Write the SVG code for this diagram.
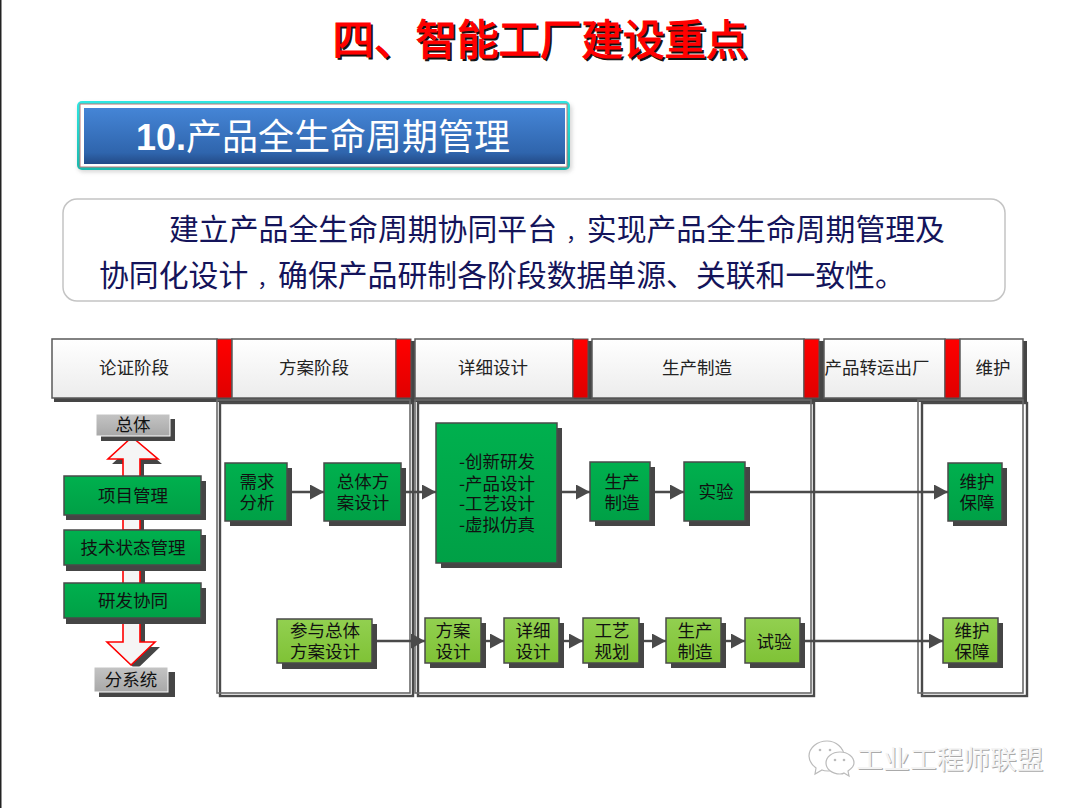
<svg xmlns="http://www.w3.org/2000/svg" width="1080" height="808" viewBox="0 0 1080 808">
<style>
text{font-family:"Liberation Sans","Noto Sans CJK SC",sans-serif;text-anchor:middle}
.cjk{font-family:"Noto Sans CJK SC","Liberation Sans",sans-serif}
.sh{fill:#454545}
.hd{fill:url(#gw);stroke:#5a5a5a;stroke-width:1.5}
.red{fill:url(#gr);stroke:#555;stroke-width:1}
.g{fill:url(#gg);stroke:#4a4a4a;stroke-width:1.5}
.l{fill:url(#gl);stroke:#4a4a4a;stroke-width:1.5}
.gy{fill:url(#gy);stroke:#fff;stroke-width:1}
.t{font-size:17.5px;fill:#111}
.h{font-size:17.5px;fill:#222}
.c{fill:none;stroke:#4a4a4a;stroke-width:2.4}
.fo{fill:none;stroke:#6a6a6a;stroke-width:1.6}
.fs{fill:none;stroke:#4a4a4a;stroke-width:2.4}
.ar{fill:#f5f5f5;stroke:#f00;stroke-width:1.6}
</style>
<defs>
<linearGradient id="gw" x1="0" y1="0" x2="0" y2="1"><stop offset="0" stop-color="#fff"/><stop offset="1" stop-color="#ececec"/></linearGradient>
<linearGradient id="gr" x1="0" y1="0" x2="0" y2="1"><stop offset="0" stop-color="#f00"/><stop offset="1" stop-color="#e00000"/></linearGradient>
<linearGradient id="gg" x1="0" y1="0" x2="0" y2="1"><stop offset="0" stop-color="#00b04e"/><stop offset="1" stop-color="#00a046"/></linearGradient>
<linearGradient id="gl" x1="0" y1="0" x2="0" y2="1"><stop offset="0" stop-color="#92d050"/><stop offset="1" stop-color="#7fc236"/></linearGradient>
<linearGradient id="gy" x1="0" y1="0" x2="0" y2="1"><stop offset="0" stop-color="#c4c4c4"/><stop offset="1" stop-color="#a8a8a8"/></linearGradient>
<linearGradient id="gb" x1="0" y1="0" x2="0" y2="1"><stop offset="0" stop-color="#4585d6"/><stop offset="0.8" stop-color="#2f65ad"/><stop offset="1" stop-color="#234a86"/></linearGradient>
<linearGradient id="gt" x1="0" y1="0" x2="0" y2="1"><stop offset="0" stop-color="#2ee8e4"/><stop offset="1" stop-color="#18b8ac"/></linearGradient>
<marker id="a" markerUnits="userSpaceOnUse" markerWidth="15" markerHeight="16" refX="14" refY="7.5" orient="auto"><path d="M0 0L14 7.5L0 15Z" fill="#4a4a4a"/></marker>
<filter id="soft" x="-5%" y="-20%" width="110%" height="140%"><feGaussianBlur stdDeviation="2"/></filter>
</defs>
<rect width="1080" height="808" fill="#fff"/>
<rect x="0" y="0" width="1.5" height="808" fill="#222"/>
<g id="title">
<text class="cjk" x="542" y="57" font-size="41.5" stroke="#111" stroke-width="1" fill="#111">四、智能工厂建设重点</text>
<text class="cjk" x="540" y="55" font-size="41.5" stroke="#f00" stroke-width="1.1" fill="#f00">四、智能工厂建设重点</text>
</g>
<g id="subtitle">
<rect x="78" y="104" width="494" height="68" rx="5" fill="#888" opacity=".35" filter="url(#soft)"/>
<rect x="77" y="101" width="493" height="69" rx="5" fill="url(#gt)"/>
<rect x="80" y="104" width="487" height="63" fill="#fff" stroke="#b77" stroke-width="1"/>
<rect x="84" y="108" width="481" height="56" fill="url(#gb)"/>
<text x="323" y="150" font-size="36" fill="#fff" class="cjk"><tspan font-family="Liberation Sans" font-weight="700">10.</tspan>产品全生命周期管理</text>
</g>
<g id="intro">
<rect x="63" y="199" width="942" height="102" rx="14" fill="#fff" stroke="#c4c4c4" stroke-width="1.5"/>
<text class="cjk" x="169" y="240" font-size="29.85" fill="#14145a" style="text-anchor:start">建立产品全生命周期协同平台<tspan dx="9" font-size="20.85">，</tspan>实现产品全生命周期管理及</text>
<text class="cjk" x="99" y="286" font-size="29.85" fill="#14145a" style="text-anchor:start">协同化设计<tspan dx="9" font-size="20.85">，</tspan>确保产品研制各阶段数据单源、关联和一致性。</text>
</g>
<g id="header">
<rect class="sh" x="54" y="341" width="973" height="61"/>
<rect class="hd" x="52" y="339" width="165" height="59"/>
<rect class="red" x="217" y="339" width="15" height="59"/>
<rect class="hd" x="232" y="339" width="164" height="59"/>
<rect class="red" x="396" y="339" width="15" height="59"/>
<rect class="hd" x="415" y="339" width="158" height="59"/>
<rect class="red" x="573" y="339" width="15" height="59"/>
<rect class="hd" x="592" y="339" width="212" height="59"/>
<rect class="red" x="804" y="339" width="15" height="59"/>
<rect class="hd" x="824" y="339" width="121" height="59"/>
<rect class="red" x="945" y="339" width="15" height="59"/>
<rect class="hd" x="960" y="339" width="63" height="59"/>
<text class="h cjk" x="134" y="374">论证阶段</text>
<text class="h cjk" x="314" y="374">方案阶段</text>
<text class="h cjk" x="493" y="374">详细设计</text>
<text class="h cjk" x="697" y="374">生产制造</text>
<text class="h cjk" x="877" y="374">产品转运出厂</text>
<text class="h cjk" x="993" y="374">维护</text>
</g>
<g id="frames">
<rect class="fs" x="220" y="403" width="193" height="293"/>
<rect class="fo" x="217" y="400" width="193" height="293"/>
<rect class="fs" x="418" y="403" width="396" height="293"/>
<rect class="fo" x="415" y="400" width="396" height="293"/>
<rect class="fs" x="922" y="403" width="105" height="293"/>
<rect class="fo" x="918" y="400" width="105" height="293"/>
</g>
<g id="connectors">
<path class="c" d="M287 492H324" marker-end="url(#a)"/>
<path class="c" d="M401 492H436" marker-end="url(#a)"/>
<path class="c" d="M556 492H590" marker-end="url(#a)"/>
<path class="c" d="M650 492H684" marker-end="url(#a)"/>
<path class="c" d="M745 492H948" marker-end="url(#a)"/>
<path class="c" d="M372 641H425" marker-end="url(#a)"/>
<path class="c" d="M481 641H504" marker-end="url(#a)"/>
<path class="c" d="M559 641H583" marker-end="url(#a)"/>
<path class="c" d="M639 641H666" marker-end="url(#a)"/>
<path class="c" d="M721 641H745" marker-end="url(#a)"/>
<path class="c" d="M800 641H943" marker-end="url(#a)"/>
</g>
<g id="arrow-up">
<path class="sh" transform="translate(4 5)" d="M132 437L108 459H123V530H140V459H158Z"/>
<path class="ar" d="M132 437L108 459H123V530H140V459H158Z"/>
</g>
<g id="arrow-down">
<path class="sh" transform="translate(5 5)" d="M123 560H140V642H155L131 665L107 642H123Z"/>
<path class="ar" d="M123 560H140V642H155L131 665L107 642H123Z"/>
</g>
<g id="bar-top">
<rect class="sh" x="101" y="419" width="74" height="22"/>
<rect class="gy" x="96" y="414" width="74" height="22"/>
<text class="h cjk" x="133" y="431" style="fill:#111">总体</text>
</g>
<g id="bar-bottom">
<rect class="sh" x="99" y="672" width="76" height="25"/>
<rect class="gy" x="94" y="667" width="74" height="25"/>
<text class="h cjk" x="131" y="686" style="fill:#111">分系统</text>
</g>
<g id="n-xmgl"><rect class="sh" x="66" y="481" width="140" height="39"/><rect class="g" x="64" y="476" width="137" height="39"/><text class="t cjk" x="133" y="502">项目管理</text></g>
<g id="n-jszt"><rect class="sh" x="66" y="535" width="140" height="36"/><rect class="g" x="64" y="530" width="137" height="35"/><text class="t cjk" x="133" y="554">技术状态管理</text></g>
<g id="n-yfxt"><rect class="sh" x="66" y="588" width="140" height="36"/><rect class="g" x="64" y="583" width="137" height="35"/><text class="t cjk" x="133" y="607">研发协同</text></g>
<g id="n-xqfx"><rect class="sh" x="230" y="468" width="62" height="58"/><rect class="g" x="225" y="463" width="62" height="58"/><text class="t cjk" y="488"><tspan x="257">需求</tspan><tspan x="257" dy="21">分析</tspan></text></g>
<g id="n-ztfa"><rect class="sh" x="329" y="468" width="77" height="58"/><rect class="g" x="324" y="463" width="77" height="58"/><text class="t cjk" y="488"><tspan x="363">总体方</tspan><tspan x="363" dy="21">案设计</tspan></text></g>
<g id="n-big"><rect class="sh" x="441" y="428" width="121" height="140"/><rect class="g" x="436" y="423" width="121" height="140"/><text class="t cjk" y="468"><tspan x="497">-创新研发</tspan><tspan x="497" dy="21.5">-产品设计</tspan><tspan x="497" dy="20.5">-工艺设计</tspan><tspan x="497" dy="21">-虚拟仿真</tspan></text></g>
<g id="n-sczz1"><rect class="sh" x="595" y="467" width="60" height="59"/><rect class="g" x="590" y="462" width="60" height="59"/><text class="t cjk" y="488"><tspan x="622">生产</tspan><tspan x="622" dy="21">制造</tspan></text></g>
<g id="n-sy1"><rect class="sh" x="689" y="467" width="61" height="59"/><rect class="g" x="684" y="462" width="61" height="59"/><text class="t cjk" x="716" y="498">实验</text></g>
<g id="n-whbz1"><rect class="sh" x="953" y="468" width="54" height="58"/><rect class="g" x="948" y="463" width="54" height="58"/><text class="t cjk" y="488"><tspan x="977">维护</tspan><tspan x="977" dy="21">保障</tspan></text></g>
<g id="n-cyzt"><rect class="sh" x="282" y="624" width="95" height="45"/><rect class="l" x="277" y="619" width="95" height="44"/><text class="t cjk" y="637"><tspan x="325">参与总体</tspan><tspan x="325" dy="21">方案设计</tspan></text></g>
<g id="n-fa"><rect class="sh" x="430" y="623" width="56" height="45"/><rect class="l" x="425" y="618" width="56" height="45"/><text class="t cjk" y="637"><tspan x="453">方案</tspan><tspan x="453" dy="21">设计</tspan></text></g>
<g id="n-xx"><rect class="sh" x="509" y="623" width="55" height="45"/><rect class="l" x="504" y="618" width="55" height="45"/><text class="t cjk" y="637"><tspan x="533">详细</tspan><tspan x="533" dy="21">设计</tspan></text></g>
<g id="n-gy"><rect class="sh" x="588" y="623" width="56" height="45"/><rect class="l" x="583" y="618" width="56" height="45"/><text class="t cjk" y="637"><tspan x="612">工艺</tspan><tspan x="612" dy="21">规划</tspan></text></g>
<g id="n-sc2"><rect class="sh" x="671" y="623" width="55" height="45"/><rect class="l" x="666" y="618" width="55" height="45"/><text class="t cjk" y="637"><tspan x="695">生产</tspan><tspan x="695" dy="21">制造</tspan></text></g>
<g id="n-sy2"><rect class="sh" x="750" y="623" width="55" height="45"/><rect class="l" x="745" y="618" width="55" height="45"/><text class="t cjk" x="774" y="648">试验</text></g>
<g id="n-whbz2"><rect class="sh" x="948" y="623" width="55" height="45"/><rect class="l" x="943" y="618" width="55" height="45"/><text class="t cjk" y="637"><tspan x="972">维护</tspan><tspan x="972" dy="21">保障</tspan></text></g>
<g id="watermark">
<g fill="#fff" stroke="#bbb" stroke-width="1.2">
<path d="M827 741c-10 0-18 7-18 15 0 5 3 9 7 12l-1 6 7-4c2 1 4 1 6 1 8 0 16-6 16-15 0-8-8-15-17-15z"/>
<path d="M840 752c-8 0-14 5-14 11s6 11 14 11c2 0 3 0 4-1l5 3-1-5c3-2 6-5 6-8 0-6-6-11-14-11z"/>
</g>
<g fill="#bbb"><circle cx="820" cy="750" r="1.3"/><circle cx="830" cy="750" r="1.3"/><circle cx="835" cy="760" r="1.3"/><circle cx="844" cy="760" r="1.3"/></g>
<text class="cjk" x="951" y="770" font-size="26.7" fill="#aaa">工业工程师联盟</text>
<text class="cjk" x="950" y="769" font-size="26.7" fill="#f4f4f4">工业工程师联盟</text>
</g>
</svg>
